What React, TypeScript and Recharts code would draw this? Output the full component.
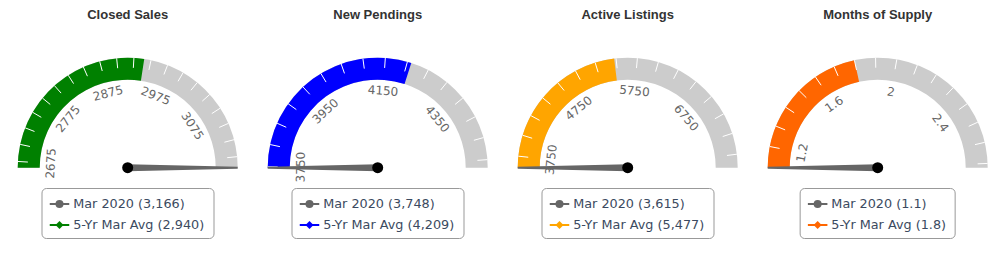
import React from 'react';
import { RadialBarChart, RadialBar, PolarAngleAxis } from 'recharts';

const titles = ['Closed Sales', 'New Pendings', 'Active Listings', 'Months of Supply'];
const currentValues = [3166, 3748, 3615, 1.1];
const avgValues = [2940, 4209, 5477, 1.8];
const scaleMin = [2666, 3748, 3615, 1.1];
const scaleMax = [3166, 4518, 7658, 2.72];
const bandColors = ['#008000', '#0000ff', '#ffa500', '#ff6600'];
const currentName = 'Mar 2020';
const avgName = '5-Yr Mar Avg';

const tickValues: number[][] = [
  [2675, 2700, 2725, 2750, 2775, 2800, 2825, 2850, 2875, 2900, 2925, 2950, 2975, 3000, 3025, 3050, 3075, 3100, 3125, 3150],
  [3750, 3800, 3850, 3900, 3950, 4000, 4050, 4100, 4150, 4200, 4250, 4300, 4350, 4400, 4450, 4500],
  [3750, 4000, 4250, 4500, 4750, 5000, 5250, 5500, 5750, 6000, 6250, 6500, 6750, 7000, 7250, 7500],
  [1.2, 1.3, 1.4, 1.5, 1.6, 1.7, 1.8, 1.9, 2, 2.1, 2.2, 2.3, 2.4, 2.5, 2.6, 2.7],
];
const labelValues: number[][] = [
  [2675, 2775, 2875, 2975, 3075],
  [3750, 3950, 4150, 4350],
  [3750, 4750, 5750, 6750],
  [1.2, 1.6, 2, 2.4],
];

const W = 250;
const H = 255;
const CX = 127.7;
const CY = 167.7;
const R_OUT = 110;
const R_IN = 88;

const fmt = (v: number) => v.toLocaleString('en-US');

function makeTick(g: number) {
  return (props: any) => {
    const { payload, index } = props;
    const angle: number = payload.coordinate;
    const rad = (-angle * Math.PI) / 180;
    const c = Math.cos(rad);
    const s = Math.sin(rad);
    if (index === tickValues[g].length) {
      const px = -s;
      const py = c;
      const tx = CX + R_OUT * c;
      const ty = CY + R_OUT * s;
      const bw = 3.5;
      const tw = 1;
      const pts = [
        [CX + px * bw, CY + py * bw],
        [tx + px * tw, ty + py * tw],
        [tx - px * tw, ty - py * tw],
        [CX - px * bw, CY - py * bw],
      ]
        .map((p) => p.join(','))
        .join(' ');
      return (
        <g>
          <polygon points={pts} fill="#666666" />
          <circle cx={CX} cy={CY} r={5.5} fill="#000000" />
        </g>
      );
    }
    const v: number = payload.value;
    const isLabel = labelValues[g].some((l) => Math.abs(l - v) < 1e-9);
    const lr = 77;
    const lx = CX + lr * c;
    const ly = CY + lr * s;
    return (
      <g>
        <line x1={CX + 100 * c} y1={CY + 100 * s} x2={CX + R_OUT * c} y2={CY + R_OUT * s} stroke="#ffffff" strokeWidth={1} />
        {isLabel && (
          <text
            x={lx}
            y={ly}
            transform={`rotate(${90 - angle} ${lx} ${ly})`}
            textAnchor="middle"
            dominantBaseline="central"
            fill="#666666"
            fontSize={12}
            fontFamily="DejaVu Sans"
          >
            {String(v)}
          </text>
        )}
      </g>
    );
  };
}

function Gauge({ g }: { g: number }) {
  const data = [{ name: titles[g], avg: avgValues[g] }];
  const ticks = [...tickValues[g], currentValues[g]];
  return (
    <div style={{ position: 'absolute', left: 250 * g, top: 0, width: W, height: H }}>
      <div
        style={{
          position: 'absolute',
          left: 0,
          width: CX * 2,
          top: 8.3,
          textAlign: 'center',
          fontFamily: 'Liberation Sans, Arial, sans-serif',
          fontWeight: 'bold',
          fontSize: 13,
          lineHeight: '13px',
          color: '#333333',
        }}
      >
        {titles[g]}
      </div>
      <RadialBarChart
        width={W}
        height={H}
        cx={CX}
        cy={CY}
        innerRadius={R_IN}
        outerRadius={R_OUT}
        startAngle={180}
        endAngle={0}
        data={data}
        barCategoryGap={0}
        margin={{ top: 0, right: 0, bottom: 0, left: 0 }}
        style={{ position: 'absolute', left: 0, top: 0 }}
      >
        <RadialBar dataKey="avg" fill={bandColors[g]} background={{ fill: '#cccccc' }} isAnimationActive={false} />
        <PolarAngleAxis
          type="number"
          domain={[scaleMin[g], scaleMax[g]]}
          allowDataOverflow
          ticks={ticks}
          tick={makeTick(g)}
          axisLine={false}
          tickLine={false}
        />
      </RadialBarChart>
      <div
        style={{
          position: 'absolute',
          left: CX,
          top: 188,
          transform: 'translateX(-50%)',
          border: '1px solid #999999',
          borderRadius: 5,
          padding: '4px 9px 3px 7px',
          background: '#ffffff',
          fontFamily: 'DejaVu Sans',
          fontSize: 12.8,
          color: '#3b4a60',
          whiteSpace: 'nowrap',
        }}
      >
        <div style={{ display: 'flex', alignItems: 'center', height: 21 }}>
          <svg width={20} height={12} style={{ marginRight: 4 }}>
            <line x1={0} y1={6} x2={20} y2={6} stroke="#666666" strokeWidth={2} />
            <circle cx={10} cy={6} r={4} fill="#666666" />
          </svg>
          <span>{`${currentName} (${fmt(currentValues[g])})`}</span>
        </div>
        <div style={{ display: 'flex', alignItems: 'center', height: 21 }}>
          <svg width={20} height={12} style={{ marginRight: 4 }}>
            <line x1={0} y1={6} x2={20} y2={6} stroke={bandColors[g]} strokeWidth={2} />
            <polygon points="10,2 14,6 10,10 6,6" fill={bandColors[g]} />
          </svg>
          <span>{`${avgName} (${fmt(avgValues[g])})`}</span>
        </div>
      </div>
    </div>
  );
}

export default function App() {
  return (
    <div style={{ position: 'relative', width: 999, height: 255, background: '#ffffff', overflow: 'hidden' }}>
      <style>{`body{margin:0}`}</style>
      {titles.map((_, g) => (
        <Gauge key={g} g={g} />
      ))}
    </div>
  );
}
